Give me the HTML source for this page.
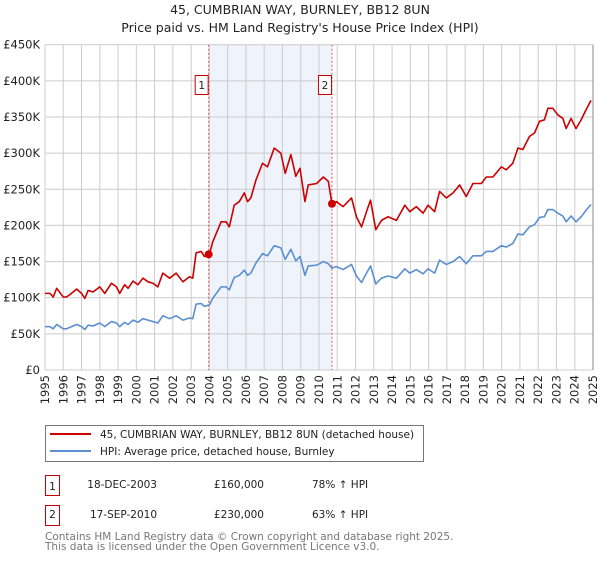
<!DOCTYPE html>
<html><head><meta charset="utf-8"><style>
body{margin:0;background:#fff;width:600px;height:560px;overflow:hidden;font-family:"DejaVu Sans","Liberation Sans",sans-serif;}
</style></head><body>
<svg id="chart" width="600" height="560" xmlns="http://www.w3.org/2000/svg" font-family="DejaVu Sans, Liberation Sans, sans-serif">
<text x="300" y="14" text-anchor="middle" font-size="12.5" fill="#222">45, CUMBRIAN WAY, BURNLEY, BB12 8UN</text>
<text x="300" y="32" text-anchor="middle" font-size="12.5" fill="#222">Price paid vs. HM Land Registry's House Price Index (HPI)</text>
<g id="plot"></g>
<g>
<rect x="45.5" y="425.5" width="378" height="36" fill="#fff" stroke="#777"/>
<line x1="50" y1="434" x2="91" y2="434" stroke="#cc0000" stroke-width="2"/>
<text x="100" y="438" font-size="10.5" fill="#222">45, CUMBRIAN WAY, BURNLEY, BB12 8UN (detached house)</text>
<line x1="50" y1="451" x2="91" y2="451" stroke="#5b8fd0" stroke-width="2"/>
<text x="100" y="455" font-size="10.5" fill="#222">HPI: Average price, detached house, Burnley</text>
</g>
<g font-size="10.5" fill="#222">
<rect x="45.5" y="475.5" width="14" height="20" fill="none" stroke="#cc0000"/>
<text x="52.5" y="490" text-anchor="middle">1</text>
<text x="157" y="488" text-anchor="end">18-DEC-2003</text>
<text x="264" y="488" text-anchor="end">£160,000</text>
<text x="312" y="488">78% ↑ HPI</text>
</g>
<g font-size="10.5" fill="#222">
<rect x="45.5" y="505.5" width="14" height="20" fill="none" stroke="#cc0000"/>
<text x="52.5" y="518" text-anchor="middle">2</text>
<text x="157" y="518" text-anchor="end">17-SEP-2010</text>
<text x="264" y="518" text-anchor="end">£230,000</text>
<text x="312" y="518">63% ↑ HPI</text>
</g>
<text x="45" y="540" font-size="10.5" fill="#777">Contains HM Land Registry data © Crown copyright and database right 2025.</text>
<text x="45" y="550" font-size="10.5" fill="#777">This data is licensed under the Open Government Licence v3.0.</text>
</svg>
<script>
const dates=[1995.00,1995.27,1995.45,1995.64,1996.00,1996.18,1996.45,1996.73,1997.00,1997.18,1997.36,1997.64,1998.00,1998.27,1998.64,1998.91,1999.09,1999.36,1999.55,1999.82,2000.09,2000.36,2000.64,2000.91,2001.18,2001.45,2001.82,2002.18,2002.55,2002.91,2003.09,2003.27,2003.55,2003.73,2004.00,2004.18,2004.64,2004.91,2005.09,2005.36,2005.64,2005.91,2006.09,2006.27,2006.55,2006.91,2007.18,2007.55,2007.91,2008.15,2008.46,2008.73,2008.96,2009.23,2009.41,2009.87,2010.24,2010.51,2010.71,2010.95,2011.32,2011.78,2012.05,2012.33,2012.60,2012.82,2013.11,2013.42,2013.78,2014.24,2014.70,2014.97,2015.33,2015.70,2015.97,2016.33,2016.60,2016.97,2017.34,2017.70,2018.06,2018.43,2018.89,2019.16,2019.52,2019.98,2020.25,2020.61,2020.89,2021.16,2021.52,2021.80,2022.07,2022.34,2022.53,2022.80,2023.07,2023.35,2023.53,2023.80,2024.07,2024.35,2024.62,2024.89];
const priceK=[106,106,101,113,101,101,106,112,106,99,110,108,115,106,120,115,106,118,113,123,118,127,122,120,115,134,127,134,122,129,127,162,164,157,160,177,205,205,198,228,233,245,233,238,263,286,281,307,300,272,298,268,279,233,256,258,267,261,230,233,226,238,212,198,219,235,194,207,212,207,228,219,226,217,228,219,247,238,245,256,240,258,258,267,267,281,277,286,307,305,323,328,344,346,362,362,353,348,334,348,334,346,360,373];
const hpiK=[60,60,57,63,57,57,60,63,60,56,62,61,65,60,67,65,60,66,63,69,66,71,69,67,65,75,71,75,69,72,71,91,92,88,90,99,115,115,111,128,131,138,131,134,148,161,158,172,169,153,167,151,157,131,144,145,150,147,141,143,139,146,130,121,134,144,119,127,130,127,140,134,139,133,140,134,152,146,150,157,147,158,158,164,164,172,170,175,188,187,198,201,211,212,222,222,217,213,205,213,205,212,221,229];
const yTicks=[0,50,100,150,200,250,300,350,400,450];
const yLabels=["£0","£50K","£100K","£150K","£200K","£250K","£300K","£350K","£400K","£450K"];
const years=[1995,1996,1997,1998,1999,2000,2001,2002,2003,2004,2005,2006,2007,2008,2009,2010,2011,2012,2013,2014,2015,2016,2017,2018,2019,2020,2021,2022,2023,2024,2025];
const saleDates=[2003.96,2010.71];
const salePricesK=[160,230];
const saleLabels=["1","2"];

const NS="http://www.w3.org/2000/svg";
const X0=45,X1=593,Y0=370,Y1=44.7;
const xs=v=>X0+(v-1995)/30*(X1-X0);
const ys=v=>Y0-v/450*(Y0-Y1);
const g=document.getElementById('plot');
function mk(t,a){const e=document.createElementNS(NS,t);for(const k in a)e.setAttribute(k,a[k]);g.appendChild(e);return e;}
let e=mk('rect',{x:xs(saleDates[0]),y:Y1,width:xs(saleDates[1])-xs(saleDates[0]),height:Y0-Y1,fill:'#eef3fc'});


years.forEach(y=>{const l=mk('line',{x1:xs(y),x2:xs(y),y1:Y1,y2:Y0,stroke:'#cccccc'});


const t=mk('text',{x:0,y:0,'font-size':'11.5',fill:'#222','text-anchor':'end',transform:`translate(${xs(y)+4},${Y0+5}) rotate(-90)`});t.textContent=y;

});
yTicks.forEach((v,i)=>{const l=mk('line',{x1:X0,x2:X1,y1:ys(v),y2:ys(v),stroke:'#cccccc'});


const t=mk('text',{x:40,y:ys(v)+4,'font-size':'11.5',fill:'#222','text-anchor':'end'});t.textContent=yLabels[i];

});
e=mk('line',{x1:X1,x2:X1,y1:Y1,y2:Y0,stroke:'#888'});


saleDates.forEach((d,i)=>{const l=mk('line',{x1:xs(d),x2:xs(d),y1:Y1,y2:Y0,stroke:'#e05555','stroke-dasharray':'2,2'});


const r=mk('rect',{x:xs(d)-13.5,y:75.5,width:13,height:19,fill:'#fff',stroke:'#cc0000'});


const t=mk('text',{x:xs(d)-7,y:89,'font-size':'10.5',fill:'#222','text-anchor':'middle'});t.textContent=saleLabels[i];

});
function line(vals,col,name){const p=mk('polyline',{points:dates.map((d,i)=>xs(d)+','+ys(vals[i])).join(' '),fill:'none',stroke:col,'stroke-width':'1.6','stroke-linejoin':'round'});

}
line(hpiK,'#5b8fd0','hpi-line');
line(priceK,'#cc0000','price-line');
saleDates.forEach((d,i)=>{const c=mk('circle',{cx:xs(d),cy:ys(salePricesK[i]),r:4,fill:'#cc0000'});

});
</script>
</body></html>
